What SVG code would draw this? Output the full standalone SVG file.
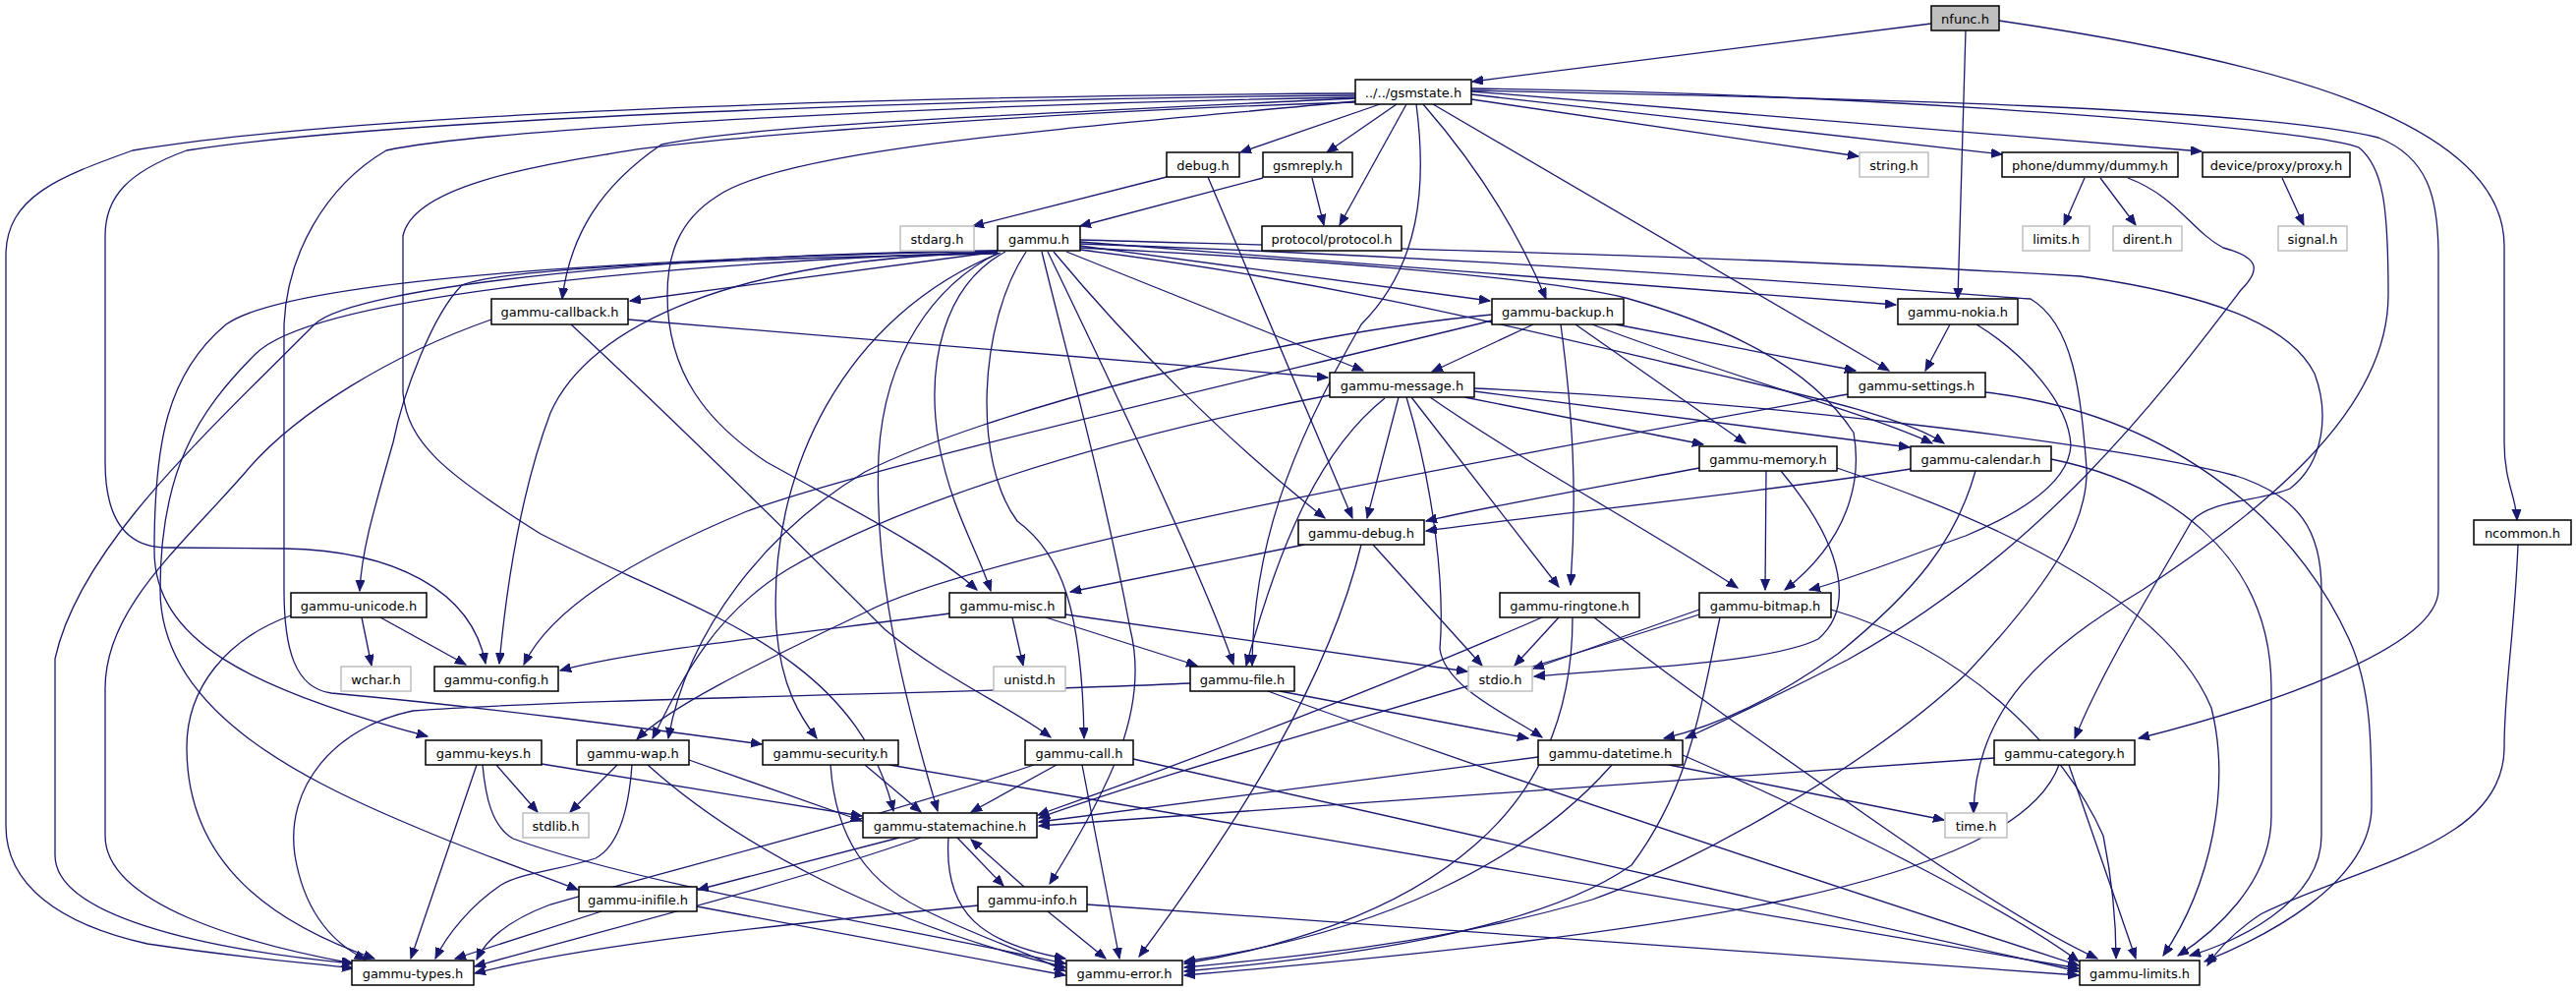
<svg xmlns="http://www.w3.org/2000/svg" width="2621" height="1008" viewBox="0 0 2621 1008">
<style>
rect{fill:#fff;stroke:#000;stroke-width:1.5}
.g rect{stroke:#bfbfbf}
.r rect{fill:#bfbfbf}
text{font-family:"DejaVu Sans","Liberation Sans",sans-serif;font-size:13px;text-anchor:middle;fill:#000}
.e path{fill:none;stroke:#191970;stroke-width:1.3;marker-end:url(#a)}
</style>
<defs>
<marker id="a" markerUnits="userSpaceOnUse" markerWidth="12" markerHeight="10" refX="11" refY="4.5" orient="auto"><path d="M0,0 L11,4.5 L0,9 z" fill="#191970" stroke="#191970" stroke-width="1"/></marker>
</defs>
<rect x="0" y="0" width="2621" height="1008" style="fill:#fff;stroke:none"/>
<g class="e" id="edges">
<path d="M1965,24 L1498,83"/>
<path d="M2000,31 L1992,304"/>
<path d="M2034,21 C2300,60 2548,120 2548,250 L2548,450 C2548,490 2560,505 2561,529"/>
<path d="M1404,106 L1262,155"/>
<path d="M1421,106 L1350,155"/>
<path d="M1431,106 L1363,229"/>
<path d="M1497,101 L1891,159"/>
<path d="M1497,96 L2037,157"/>
<path d="M1497,93 L2240,154"/>
<path d="M1448,106 Q1530,200 1573,304"/>
<path d="M1458,106 L1922,377"/>
<path d="M1441,106 C1452,190 1445,270 1385,330 C1310,460 1275,560 1274,677"/>
<path d="M1379,100 C1000,118 760,128 673,147 C610,190 580,240 572,304"/>
<path d="M1379,97 C1000,100 400,120 190,153 C130,175 107,200 107,240 L107,470 C107,530 130,557 170,557 L290,558 C400,560 480,600 494,675"/>
<path d="M1379,95 C1000,97 400,110 135,153 C60,180 6,200 6,260 L6,840 C6,900 60,940 150,960 C250,975 320,980 359,985"/>
<path d="M1379,103 C1100,130 800,150 729,200 C690,225 679,260 679,300 C679,380 720,430 780,470 C870,520 950,560 994,600"/>
<path d="M1379,99 C1000,105 500,130 393,153 C330,190 292,260 289,330 L289,600 C289,660 300,700 337,705 C500,720 650,740 775,757"/>
<path d="M1379,104 C1100,112 700,140 617,157 C540,170 420,190 410,240 L410,400 C415,450 450,480 550,543 C700,620 870,660 909,825"/>
<path d="M1497,92 C1900,100 2300,110 2420,140 C2470,160 2481,200 2481,260 L2481,600 C2481,660 2300,720 2176,751"/>
<path d="M1497,90 C1900,95 2350,130 2400,150 C2425,170 2430,210 2430,300 C2430,420 2300,520 2180,600 C2080,660 2010,720 2008,827"/>
<path d="M1187,180 L990,230"/>
<path d="M1229,180 L1376,527"/>
<path d="M1285,181 L1099,230"/>
<path d="M1335,181 L1347,229"/>
<path d="M2121,181 L2100,229"/>
<path d="M2137,181 L2173,229"/>
<path d="M2165,181 C2215,200 2230,235 2262,252 C2300,262 2300,275 2280,295 C2200,400 2080,560 1880,671 C1800,712 1750,735 1715,751"/>
<path d="M2322,181 L2344,229"/>
<path d="M1015,256 L641,306"/>
<path d="M1099,250 L1516,306"/>
<path d="M1099,246 L1929,310"/>
<path d="M1085,256 L1387,377"/>
<path d="M1099,254 C1350,285 1550,335 1700,370 C1850,405 1940,425 1978,451"/>
<path d="M1099,252 C1300,262 1560,280 1654,303 C1750,330 1840,370 1886,440 C1895,490 1880,550 1816,600"/>
<path d="M1099,244 C1500,255 1800,262 2117,281 C2250,300 2330,330 2355,380 C2370,420 2365,470 2330,497 C2300,510 2250,508 2230,530 C2190,600 2140,680 2111,751"/>
<path d="M1099,248 C1500,262 1800,285 2066,304 C2110,330 2117,400 2123,476 C2125,530 2090,590 2000,686 C1900,780 1720,880 1620,915 C1470,960 1300,975 1205,984"/>
<path d="M1072,256 C1150,350 1250,450 1348,527"/>
<path d="M1023,256 C960,290 942,370 955,450 C968,520 995,560 1008,601"/>
<path d="M1016,257 C950,290 900,360 894,463 C890,560 905,660 954,825"/>
<path d="M1044,256 C995,330 990,470 1035,530 C1080,563 1101,620 1103,751"/>
<path d="M1060,256 C1085,360 1120,480 1150,640 C1170,720 1130,800 1068,899"/>
<path d="M1066,256 C1150,430 1230,600 1255,676"/>
<path d="M1015,258 C800,262 520,270 470,290 C440,320 410,400 400,450 C380,520 368,560 366,601"/>
<path d="M1015,257 C750,262 600,330 560,420 C530,500 515,600 508,675"/>
<path d="M1015,255 C700,262 300,280 230,330 C170,380 157,450 157,560 C157,650 250,700 435,749"/>
<path d="M1015,256 C680,268 320,300 260,360 C200,420 163,480 163,600 C163,720 300,790 420,840 C490,870 550,890 588,905"/>
<path d="M1015,255 C700,258 360,290 320,330 C200,450 80,560 56,670 L56,870 C56,930 200,965 359,980"/>
<path d="M1018,257 C860,320 780,480 790,640 C795,700 815,730 831,751"/>
<path d="M639,325 L1351,384"/>
<path d="M581,330 C700,440 820,560 900,640 C960,690 1030,720 1069,750"/>
<path d="M500,325 C400,360 300,420 250,480 C180,560 107,620 107,700 L107,850 C107,920 250,960 359,980"/>
<path d="M1560,330 L1457,378"/>
<path d="M1644,330 L1888,377"/>
<path d="M1603,330 L1776,451"/>
<path d="M1620,330 C1750,380 1900,420 1966,451"/>
<path d="M1588,330 C1600,420 1605,500 1598,595"/>
<path d="M1518,320 C1300,340 1000,420 880,480 C780,540 700,640 680,751"/>
<path d="M1518,326 C1300,380 900,470 760,520 C640,570 560,620 533,676"/>
<path d="M1984,330 L1959,377"/>
<path d="M2011,330 C2060,360 2105,410 2107,453 C2105,490 2060,520 2000,545 C1930,570 1880,590 1841,600"/>
<path d="M1490,404 L1733,452"/>
<path d="M1500,398 L1943,455"/>
<path d="M1423,404 L1391,527"/>
<path d="M1436,404 L1586,597"/>
<path d="M1455,404 C1550,470 1680,540 1768,598"/>
<path d="M1431,404 C1460,500 1470,600 1465,660 C1470,700 1540,730 1569,750"/>
<path d="M1500,395 C1750,405 2150,450 2275,484 C2340,505 2362,540 2362,600 L2362,850 C2362,920 2270,960 2228,972"/>
<path d="M1409,405 C1340,460 1300,560 1268,677"/>
<path d="M1353,402 C1100,450 900,520 800,580 C720,630 690,700 664,751"/>
<path d="M1880,401 C1500,470 1000,560 880,623 C760,680 680,720 648,752"/>
<path d="M2020,399 C2200,420 2330,520 2390,650 C2413,700 2413,760 2413,820 C2413,900 2300,955 2243,978"/>
<path d="M1797,479 L1796,600"/>
<path d="M1729,476 C1600,500 1500,518 1451,530"/>
<path d="M1812,479 C1880,560 1885,620 1850,650 C1800,675 1650,680 1561,688"/>
<path d="M1869,476 C2000,520 2200,600 2250,720 C2270,800 2250,900 2201,972"/>
<path d="M1944,477 C1800,500 1600,520 1451,540"/>
<path d="M2010,479 C1990,550 1950,600 1870,665 C1800,715 1740,740 1693,751"/>
<path d="M2087,467 C2200,490 2311,560 2311,700 L2311,830 C2311,900 2250,950 2216,972"/>
<path d="M1327,554 L1089,602"/>
<path d="M1397,554 L1508,677"/>
<path d="M1385,554 C1350,700 1250,850 1159,973"/>
<path d="M2562,554 C2558,650 2548,700 2548,760 C2548,860 2400,880 2300,930 C2270,950 2255,968 2246,982"/>
<path d="M368,628 L378,677"/>
<path d="M387,628 L474,676"/>
<path d="M296,626 C230,650 190,700 190,760 C190,880 280,940 381,975"/>
<path d="M966,624 C850,640 650,660 570,682"/>
<path d="M1030,628 L1041,677"/>
<path d="M1064,628 L1218,677"/>
<path d="M1084,625 L1493,683"/>
<path d="M1586,628 L1541,677"/>
<path d="M1569,628 C1450,680 1250,760 1056,829"/>
<path d="M1600,628 C1600,720 1570,800 1500,860 C1420,930 1300,965 1205,980"/>
<path d="M1622,628 C1700,690 1800,760 1900,830 C2000,900 2080,950 2134,975"/>
<path d="M1729,620 L1560,680"/>
<path d="M1729,625 C1500,700 1200,780 1057,832"/>
<path d="M1750,628 C1730,720 1720,800 1660,880 C1560,950 1350,975 1205,988"/>
<path d="M1863,620 C2000,660 2100,760 2140,850 C2150,900 2153,940 2153,975"/>
<path d="M1302,703 L1555,751"/>
<path d="M1211,695 C1000,705 600,710 420,723 C340,740 290,800 300,870 C310,930 340,960 372,976"/>
<path d="M1290,703 C1500,780 1800,880 2115,982"/>
<path d="M1565,770 L1057,836"/>
<path d="M1698,778 L1978,834"/>
<path d="M1640,778 C1550,880 1400,950 1205,978"/>
<path d="M1712,768 C1900,850 2050,930 2115,978"/>
<path d="M2029,771 L1057,840"/>
<path d="M2105,778 L2173,975"/>
<path d="M2095,778 C2050,900 1700,950 1205,992"/>
<path d="M505,778 L547,826"/>
<path d="M485,778 L418,975"/>
<path d="M551,777 L877,830"/>
<path d="M491,778 C494,810 500,840 522,853 C650,900 900,940 1084,980"/>
<path d="M628,778 L580,826"/>
<path d="M643,778 C640,820 630,860 606,873 C570,885 533,887 510,900 C480,920 455,950 443,975"/>
<path d="M701,773 L877,835"/>
<path d="M659,778 C750,860 900,940 1084,984"/>
<path d="M880,778 L937,826"/>
<path d="M905,778 L2115,985"/>
<path d="M845,778 C850,850 880,900 950,930 C1000,955 1050,970 1084,988"/>
<path d="M1075,778 L988,826"/>
<path d="M1052,778 C900,830 700,880 560,920 C520,935 495,955 485,976"/>
<path d="M1101,778 L1139,975"/>
<path d="M1153,772 L2115,988"/>
<path d="M974,852 L1021,901"/>
<path d="M1042,902 L988,854"/>
<path d="M915,852 L710,905"/>
<path d="M937,852 C800,900 600,950 483,983"/>
<path d="M965,852 C960,930 1000,960 1084,975"/>
<path d="M612,927 L463,975"/>
<path d="M709,922 L1084,992"/>
<path d="M995,921 C800,940 600,960 483,990"/>
<path d="M1066,927 L1125,975"/>
<path d="M1106,920 L2115,992"/>
</g>
<g id="n_nfunc" class="r"><rect x="1965" y="6" width="69" height="25"/><text x="1999.5" y="23.5">nfunc.h</text></g>
<g id="n_gsmstate"><rect x="1379" y="81" width="118" height="25"/><text x="1438" y="98.5">../../gsmstate.h</text></g>
<g id="n_debug"><rect x="1187" y="155" width="74" height="25"/><text x="1224" y="172.5">debug.h</text></g>
<g id="n_gsmreply"><rect x="1285" y="155" width="91" height="25"/><text x="1330.5" y="172.5">gsmreply.h</text></g>
<g id="n_string" class="g"><rect x="1892" y="155" width="70" height="25"/><text x="1927" y="172.5">string.h</text></g>
<g id="n_dummy"><rect x="2037" y="155" width="179" height="25"/><text x="2126.5" y="172.5">phone/dummy/dummy.h</text></g>
<g id="n_proxy"><rect x="2241" y="155" width="150" height="25"/><text x="2316" y="172.5">device/proxy/proxy.h</text></g>
<g id="n_stdarg" class="g"><rect x="916" y="230" width="75" height="25"/><text x="953.5" y="247.5">stdarg.h</text></g>
<g id="n_gammu"><rect x="1015" y="230" width="84" height="25"/><text x="1057" y="247.5">gammu.h</text></g>
<g id="n_protocol"><rect x="1284" y="230" width="142" height="25"/><text x="1355" y="247.5">protocol/protocol.h</text></g>
<g id="n_limitsh" class="g"><rect x="2058" y="230" width="68" height="25"/><text x="2092" y="247.5">limits.h</text></g>
<g id="n_dirent" class="g"><rect x="2150" y="230" width="70" height="25"/><text x="2185" y="247.5">dirent.h</text></g>
<g id="n_signal" class="g"><rect x="2318" y="230" width="70" height="25"/><text x="2353" y="247.5">signal.h</text></g>
<g id="n_callback"><rect x="500" y="304" width="139" height="26"/><text x="569.5" y="322">gammu-callback.h</text></g>
<g id="n_backup"><rect x="1518" y="304" width="134" height="26"/><text x="1585" y="322">gammu-backup.h</text></g>
<g id="n_nokia"><rect x="1931" y="304" width="122" height="26"/><text x="1992" y="322">gammu-nokia.h</text></g>
<g id="n_message"><rect x="1353" y="379" width="147" height="25"/><text x="1426.5" y="396.5">gammu-message.h</text></g>
<g id="n_settings"><rect x="1880" y="379" width="140" height="25"/><text x="1950" y="396.5">gammu-settings.h</text></g>
<g id="n_memory"><rect x="1729" y="454" width="140" height="25"/><text x="1799" y="471.5">gammu-memory.h</text></g>
<g id="n_calendar"><rect x="1944" y="454" width="143" height="25"/><text x="2015.5" y="471.5">gammu-calendar.h</text></g>
<g id="n_gdebug"><rect x="1321" y="529" width="128" height="25"/><text x="1385" y="546.5">gammu-debug.h</text></g>
<g id="n_ncommon"><rect x="2517" y="529" width="99" height="25"/><text x="2566.5" y="546.5">ncommon.h</text></g>
<g id="n_unicode"><rect x="296" y="603" width="138" height="25"/><text x="365" y="620.5">gammu-unicode.h</text></g>
<g id="n_misc"><rect x="966" y="603" width="118" height="25"/><text x="1025" y="620.5">gammu-misc.h</text></g>
<g id="n_ringtone"><rect x="1526" y="603" width="142" height="25"/><text x="1597" y="620.5">gammu-ringtone.h</text></g>
<g id="n_bitmap"><rect x="1729" y="603" width="134" height="25"/><text x="1796" y="620.5">gammu-bitmap.h</text></g>
<g id="n_wchar" class="g"><rect x="347" y="678" width="71" height="25"/><text x="382.5" y="695.5">wchar.h</text></g>
<g id="n_config"><rect x="442" y="678" width="126" height="25"/><text x="505" y="695.5">gammu-config.h</text></g>
<g id="n_unistd" class="g"><rect x="1011" y="678" width="73" height="25"/><text x="1047.5" y="695.5">unistd.h</text></g>
<g id="n_file"><rect x="1211" y="678" width="106" height="25"/><text x="1264" y="695.5">gammu-file.h</text></g>
<g id="n_stdio" class="g"><rect x="1494" y="678" width="65" height="25"/><text x="1526.5" y="695.5">stdio.h</text></g>
<g id="n_keys"><rect x="433" y="753" width="118" height="25"/><text x="492" y="770.5">gammu-keys.h</text></g>
<g id="n_wap"><rect x="587" y="753" width="114" height="25"/><text x="644" y="770.5">gammu-wap.h</text></g>
<g id="n_security"><rect x="776" y="753" width="138" height="25"/><text x="845" y="770.5">gammu-security.h</text></g>
<g id="n_call"><rect x="1043" y="753" width="110" height="25"/><text x="1098" y="770.5">gammu-call.h</text></g>
<g id="n_datetime"><rect x="1565" y="753" width="147" height="25"/><text x="1638.5" y="770.5">gammu-datetime.h</text></g>
<g id="n_category"><rect x="2029" y="753" width="143" height="25"/><text x="2100.5" y="770.5">gammu-category.h</text></g>
<g id="n_stdlib" class="g"><rect x="532" y="827" width="67" height="25"/><text x="565.5" y="844.5">stdlib.h</text></g>
<g id="n_statemachine"><rect x="878" y="827" width="177" height="25"/><text x="966.5" y="844.5">gammu-statemachine.h</text></g>
<g id="n_time" class="g"><rect x="1979" y="827" width="63" height="25"/><text x="2010.5" y="844.5">time.h</text></g>
<g id="n_inifile"><rect x="589" y="902" width="120" height="25"/><text x="649" y="919.5">gammu-inifile.h</text></g>
<g id="n_info"><rect x="995" y="902" width="111" height="25"/><text x="1050.5" y="919.5">gammu-info.h</text></g>
<g id="n_types"><rect x="358" y="977" width="124" height="25"/><text x="420" y="994.5">gammu-types.h</text></g>
<g id="n_error"><rect x="1085" y="977" width="118" height="25"/><text x="1144" y="994.5">gammu-error.h</text></g>
<g id="n_limits"><rect x="2116" y="977" width="122" height="25"/><text x="2177" y="994.5">gammu-limits.h</text></g>
</svg>
